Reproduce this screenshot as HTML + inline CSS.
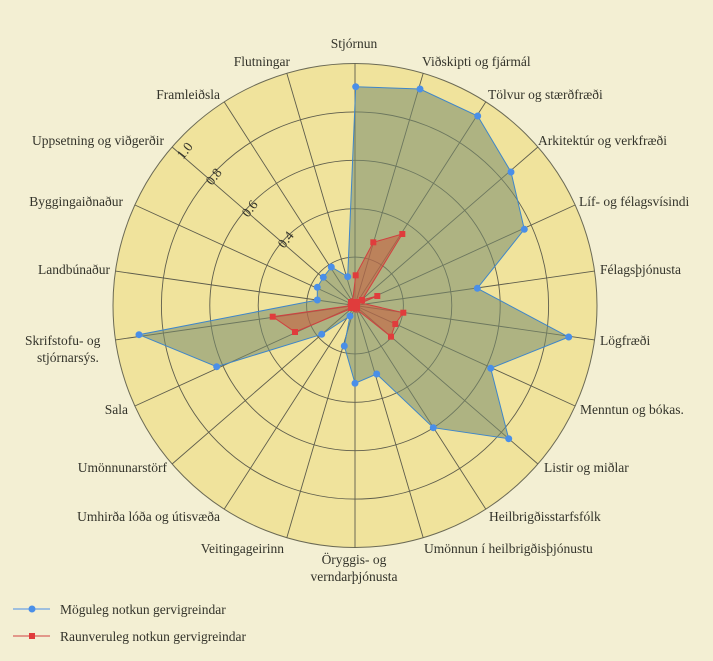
<!DOCTYPE html>
<html><head><meta charset="utf-8"><style>
html,body{margin:0;padding:0;background:#f3efd3;}
svg{display:block;}
text{font-family:"Liberation Serif","DejaVu Serif",serif;font-size:13.5px;fill:#33332a;}
</style></head><body>
<svg width="713" height="661" viewBox="0 0 713 661" xmlns="http://www.w3.org/2000/svg">
<rect width="713" height="661" fill="#f3efd3"/>
<circle cx="355" cy="305.5" r="242" fill="#f0e39c" stroke="#6b6a55" stroke-width="1"/>
<g fill="none" stroke="#5e5d4c" stroke-width="0.9">
<circle cx="355" cy="305.5" r="48.4"/>
<circle cx="355" cy="305.5" r="96.8"/>
<circle cx="355" cy="305.5" r="145.2"/>
<circle cx="355" cy="305.5" r="193.6"/>
</g>
<g stroke="#5e5d4c" stroke-width="0.9">
<line x1="355" y1="305.5" x2="355" y2="63.5"/>
<line x1="355" y1="305.5" x2="423.2" y2="73.3"/>
<line x1="355" y1="305.5" x2="485.8" y2="101.9"/>
<line x1="355" y1="305.5" x2="537.9" y2="147"/>
<line x1="355" y1="305.5" x2="575.1" y2="205"/>
<line x1="355" y1="305.5" x2="594.5" y2="271.1"/>
<line x1="355" y1="305.5" x2="594.5" y2="339.9"/>
<line x1="355" y1="305.5" x2="575.1" y2="406"/>
<line x1="355" y1="305.5" x2="537.9" y2="464"/>
<line x1="355" y1="305.5" x2="485.8" y2="509.1"/>
<line x1="355" y1="305.5" x2="423.2" y2="537.7"/>
<line x1="355" y1="305.5" x2="355" y2="547.5"/>
<line x1="355" y1="305.5" x2="286.8" y2="537.7"/>
<line x1="355" y1="305.5" x2="224.2" y2="509.1"/>
<line x1="355" y1="305.5" x2="172.1" y2="464"/>
<line x1="355" y1="305.5" x2="134.9" y2="406"/>
<line x1="355" y1="305.5" x2="115.5" y2="339.9"/>
<line x1="355" y1="305.5" x2="115.5" y2="271.1"/>
<line x1="355" y1="305.5" x2="134.9" y2="205"/>
<line x1="355" y1="305.5" x2="172.1" y2="147"/>
<line x1="355" y1="305.5" x2="224.2" y2="101.9"/>
<line x1="355" y1="305.5" x2="286.8" y2="73.3"/>
</g>
<polygon fill="rgba(120,140,110,0.55)" stroke="#3f86c9" stroke-width="1" points="355.7,86.7 420,89 477.7,116 511,172 524.3,229.3 477.3,288.3 568.7,337 490.7,368.3 508.7,438.7 433.3,427.7 376.7,374 355,383.3 344.3,346 350,316 321.7,334.3 216.7,366.7 139,334.7 317.3,300 317.3,287.3 323.3,277.3 331.3,267 347.7,276.7"/>
<polygon fill="rgba(200,90,60,0.55)" stroke="#d04040" stroke-width="1" points="355.7,275.3 373.3,242.3 402.3,234 362,300 377.3,296 361,303 403.3,312.7 395.3,324 391,336.7 360,312 357,312 355,312 352,310 350,309 295,332 272.7,316.7 348,306 348,304 349,302 350,300 351,299 353,298"/>
<g fill="#4a8fe8">
<circle cx="355.7" cy="86.7" r="3.5"/><circle cx="420" cy="89" r="3.5"/><circle cx="477.7" cy="116" r="3.5"/><circle cx="511" cy="172" r="3.5"/><circle cx="524.3" cy="229.3" r="3.5"/><circle cx="477.3" cy="288.3" r="3.5"/><circle cx="568.7" cy="337" r="3.5"/><circle cx="490.7" cy="368.3" r="3.5"/><circle cx="508.7" cy="438.7" r="3.5"/><circle cx="433.3" cy="427.7" r="3.5"/><circle cx="376.7" cy="374" r="3.5"/><circle cx="355" cy="383.3" r="3.5"/><circle cx="344.3" cy="346" r="3.5"/><circle cx="350" cy="316" r="3.5"/><circle cx="321.7" cy="334.3" r="3.5"/><circle cx="216.7" cy="366.7" r="3.5"/><circle cx="139" cy="334.7" r="3.5"/><circle cx="317.3" cy="300" r="3.5"/><circle cx="317.3" cy="287.3" r="3.5"/><circle cx="323.3" cy="277.3" r="3.5"/><circle cx="331.3" cy="267" r="3.5"/><circle cx="347.7" cy="276.7" r="3.5"/>
</g>
<g fill="#e03c3c">
<rect x="352.7" y="272.3" width="6" height="6"/><rect x="370.3" y="239.3" width="6" height="6"/><rect x="399.3" y="231" width="6" height="6"/><rect x="374.3" y="293" width="6" height="6"/><rect x="400.3" y="309.7" width="6" height="6"/><rect x="392.3" y="321" width="6" height="6"/><rect x="388" y="333.7" width="6" height="6"/><rect x="292" y="329" width="6" height="6"/><rect x="269.7" y="313.7" width="6" height="6"/><rect x="348" y="299" width="12" height="12"/><rect x="359" y="297" width="6" height="6"/>
</g>
<g font-size="12">
<text transform="translate(183,160) rotate(-52)">1.0</text>
<text transform="translate(212,186) rotate(-52)">0.8</text>
<text transform="translate(248,218) rotate(-52)">0.6</text>
<text transform="translate(284,249) rotate(-52)">0.4</text>
</g>
<text x="354" y="48" text-anchor="middle">Stjórnun</text>
<text x="422" y="66">Viðskipti og fjármál</text>
<text x="488" y="99">Tölvur og stærðfræði</text>
<text x="538" y="145">Arkitektúr og verkfræði</text>
<text x="579" y="206">Líf- og félagsvísindi</text>
<text x="600" y="274">Félagsþjónusta</text>
<text x="600" y="345">Lögfræði</text>
<text x="580" y="414">Menntun og bókas.</text>
<text x="544" y="472">Listir og miðlar</text>
<text x="489" y="521">Heilbrigðisstarfsfólk</text>
<text x="424" y="553">Umönnun í  heilbrigðisþjónustu</text>
<text x="354" y="564" text-anchor="middle">Öryggis- og</text>
<text x="354" y="581" text-anchor="middle">verndarþjónusta</text>
<text x="284" y="553" text-anchor="end">Veitingageirinn</text>
<text x="220" y="521" text-anchor="end">Umhirða lóða og útisvæða</text>
<text x="167" y="472" text-anchor="end">Umönnunarstörf</text>
<text x="128" y="414" text-anchor="end">Sala</text>
<text x="25" y="345">Skrifstofu- og</text>
<text x="37" y="362">stjórnarsýs.</text>
<text x="110" y="274" text-anchor="end">Landbúnaður</text>
<text x="123" y="206" text-anchor="end">Byggingaiðnaður</text>
<text x="164" y="145" text-anchor="end">Uppsetning og viðgerðir</text>
<text x="220" y="99" text-anchor="end">Framleiðsla</text>
<text x="290" y="66" text-anchor="end">Flutningar</text>
<line x1="13" y1="609" x2="50" y2="609" stroke="#4a8fe8" stroke-width="1"/>
<circle cx="32" cy="609" r="3.5" fill="#4a8fe8"/>
<text x="60" y="614" fill="#555">Möguleg notkun gervigreindar</text>
<line x1="13" y1="636" x2="50" y2="636" stroke="#d04040" stroke-width="1"/>
<rect x="29" y="633" width="6" height="6" fill="#e03c3c"/>
<text x="60" y="641" fill="#555">Raunveruleg notkun gervigreindar</text>
</svg>
</body></html>
